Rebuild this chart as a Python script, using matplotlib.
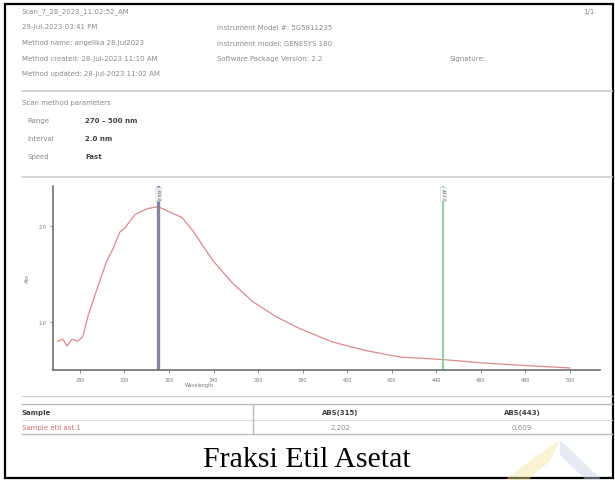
import matplotlib
matplotlib.use("Agg")
import matplotlib.pyplot as plt
from matplotlib.patches import Rectangle, Polygon

W, H = 615, 481  # page size in pixels

# UV-Vis scan of the ethyl acetate fraction
wavelength = [270, 272.4, 274.2, 276.4, 279.1, 281.3, 283.6, 287.6, 292.1, 294.8,
              298, 300.2, 304.7, 310.1, 315, 318.2, 321.8, 325.8, 330.7, 339.7,
              348.7, 357.7, 368.5, 378.8, 393.6, 408.9, 423.7, 443, 461, 483.4, 500]
absorbance = [0.80, 0.82, 0.75, 0.82, 0.80, 0.85, 1.06, 1.34, 1.64, 1.76,
              1.94, 1.98, 2.12, 2.18, 2.202, 2.17, 2.13, 2.09, 1.95, 1.64,
              1.40, 1.21, 1.05, 0.93, 0.79, 0.70, 0.635, 0.609, 0.573, 0.542, 0.521]

# marker wavelengths and the absorbance read at them
marker_nm = [315, 443]
marker_abs = [2.202, 0.609]
marker_colors = ["#85859f", "#93d2a4"]

x_ticks = list(range(280, 501, 20))
y_ticks = [1.0, 2.0]

header_left = ["Scan_7_28_2023_11:02:52_AM",
               "29-Jul-2023 03:41 PM",
               "Method name: angelika 28.Jul2023",
               "Method created: 28-Jul-2023 11:10 AM",
               "Method updated: 28-Jul-2023 11:02 AM"]
header_right = ["Instrument Model #: 5G5811235",
                "Instrument model: GENESYS 180",
                "Software Package Version: 2.2"]
params = [("Range", "270 \u2013 500 nm"), ("Interval", "2.0 nm"), ("Speed", "Fast")]
sample_name = "Sample etil ast 1"

GRAY = "#8a8a8a"
LINE = "#cfcfcf"

fig = plt.figure(figsize=(W / 100, H / 100), dpi=100)
page = fig.add_axes([0, 0, 1, 1])
page.set_xlim(0, W)
page.set_ylim(H, 0)
page.axis("off")

# outer frame
page.add_patch(Rectangle((5, 5), 608, 474, fill=False, ec="black", lw=1.6))

# report header
for i, s in enumerate(header_left):
    page.text(22, 12 + i * 15.5, s, fontsize=5, color=GRAY, va="center")
for i, s in enumerate(header_right):
    page.text(217, 28 + i * 15.5, s, fontsize=5, color=GRAY, va="center")
page.text(450, 59, "Signature:", fontsize=5, color=GRAY, va="center")
page.text(583, 12, "1/1", fontsize=5, color=GRAY, va="center")

page.plot([22, 612], [92, 92], color=LINE, lw=1.2)
page.text(22, 103, "Scan method parameters", fontsize=5, color=GRAY, va="center")
for i, (k, v) in enumerate(params):
    page.text(27, 121 + i * 18, k, fontsize=5, color=GRAY, va="center")
    page.text(85, 121 + i * 18, v, fontsize=5, color="#404040", va="center",
              fontweight="bold")
page.plot([22, 612], [178, 178], color=LINE, lw=1.2)

# results table
page.plot([22, 612], [397, 397], color=LINE, lw=1.0)
page.plot([22, 612], [405, 405], color="#bdbdbd", lw=1.0)
page.plot([22, 612], [421, 421], color="#dddddd", lw=0.8)
page.plot([22, 612], [435, 435], color="#bdbdbd", lw=1.0)
page.plot([253, 253], [405, 435], color="#bdbdbd", lw=1.0)
page.text(22, 413, "Sample", fontsize=5, color="#404040", va="center",
          fontweight="bold")
page.text(22, 428, sample_name, fontsize=5, color="#d07070", va="center")
for cx, nm, a in zip([340, 522], marker_nm, marker_abs):
    page.text(cx, 413, f"ABS({nm})", fontsize=5, color="#404040", va="center",
              ha="center", fontweight="bold")
    page.text(cx, 428, f"{a:.3f}", fontsize=5, color=GRAY, va="center",
              ha="center")

# caption
page.text(307, 460, "Fraksi Etil Asetat", fontsize=21.5,
          family="Liberation Serif", ha="center", va="center", color="black")

# faint logo in the corner
page.add_patch(Polygon([[505, 481], [532, 460], [560, 441], [550, 462], [528, 481]],
                       closed=True, fc="#f3e6a0", ec="none", alpha=0.45))
page.add_patch(Polygon([[560, 441], [602, 481], [586, 481], [560, 456]],
                       closed=True, fc="#c9d3e6", ec="none", alpha=0.45))

# spectrum panel
ax = fig.add_axes([53 / W, 1 - 371 / H, 547 / W, 184 / H])
ax.plot(wavelength, absorbance, color="#d98a8e", lw=0.9)
for nm, c in zip(marker_nm, marker_colors):
    ax.axvline(nm, color=c, lw=2.4 if nm == 315 else 1.6)
    ax.text(nm, 2.33, f"{nm}.0", rotation=270, fontsize=3.2, color="#555555",
            ha="center", va="center",
            bbox=dict(fc="white", ec="#bbbbbb", lw=0.4, pad=0.6, alpha=0.8))
ax.set_xlim(267.9, 513.5)
ax.set_ylim(0.5, 2.417)
ax.set_xticks(x_ticks)
ax.set_xticklabels([str(t) for t in x_ticks])
ax.set_yticks(y_ticks)
ax.set_yticklabels([f"{t:.1f}" for t in y_ticks])
ax.tick_params(labelsize=3.5, colors="#777777", length=2, width=0.6, pad=3)
for side in ["top", "right"]:
    ax.spines[side].set_visible(False)
for side in ["left", "bottom"]:
    ax.spines[side].set_color("#707070")
    ax.spines[side].set_linewidth(1.2)
ax.patch.set_alpha(0)
ax.set_ylabel("Abs", fontsize=3.5, color="#777777", labelpad=6)
ax.text(327, 0.5 - 15 / 96, "Wavelength", fontsize=3.5, color="#777777",
        ha="left", va="center")

fig.savefig("out.png", dpi=100)
